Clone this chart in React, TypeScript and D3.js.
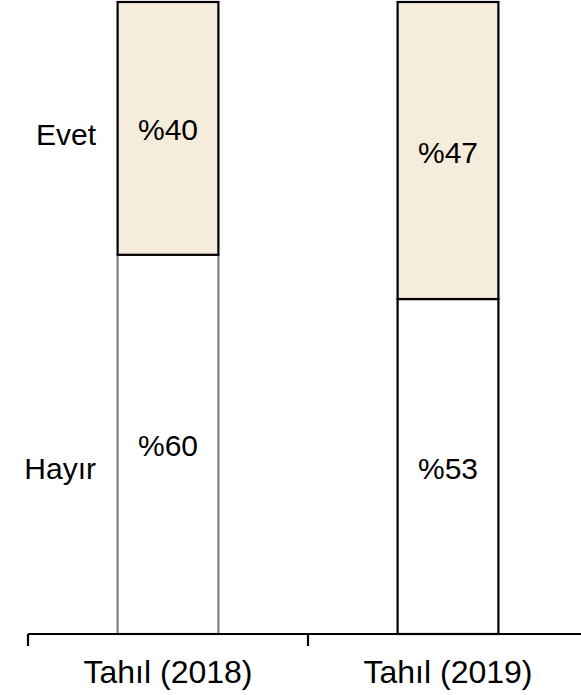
import { useEffect, useRef } from "react";
import * as d3 from "d3";

const categories = ["Tahıl (2018)", "Tahıl (2019)"];
const hayir = [60, 53];
const evet = [40, 47];
const seriesNames = ["Hayır", "Evet"];
// where the left-hand series names sit, in % of bar height
const seriesLabelAt = [26.2, 79];

const width = 581;
const height = 695;
const font = "'Liberation Sans', Arial, sans-serif";

export default function App() {
    const ref = useRef<SVGSVGElement | null>(null);

    useEffect(() => {
        if (!ref.current) return;
        const svg = d3.select(ref.current);
        svg.selectAll("*").remove();

        const x = d3.scaleBand<string>().domain(categories).range([28, 588]).padding(0);
        const y = d3.scaleLinear().domain([0, 100]).range([634, 2]);
        const barW = x.bandwidth() * 0.36;

        const rows = categories.map((c, i) => ({ cat: c, Hayır: hayir[i], Evet: evet[i] }));
        const stack = d3.stack<any>().keys(seriesNames);
        const layers = stack(rows);

        const fills: Record<string, string> = { "Hayır": "#ffffff", "Evet": "#f6ecdc" };
        const strokes: Record<string, string[]> = { "Hayır": ["#7f7f7f", "#000000"], "Evet": ["#000000", "#000000"] };

        layers.forEach((layer) => {
            const key = layer.key;
            layer.forEach((d, i) => {
                const cx = (x(d.data.cat) ?? 0) + x.bandwidth() / 2;
                const y0 = y(d[0]);
                const y1 = y(d[1]);
                svg.append("rect")
                    .attr("x", cx - barW / 2)
                    .attr("y", y1)
                    .attr("width", barW)
                    .attr("height", y0 - y1)
                    .attr("fill", fills[key])
                    .attr("stroke", strokes[key][i])
                    .attr("stroke-width", 2.2);
            });
        });

        // value labels
        layers.forEach((layer) => {
            layer.forEach((d) => {
                const cx = (x(d.data.cat) ?? 0) + x.bandwidth() / 2;
                svg.append("text")
                    .attr("x", cx)
                    .attr("y", (y(d[0]) + y(d[1])) / 2)
                    .attr("dy", "0.4em")
                    .attr("text-anchor", "middle")
                    .attr("font-family", font)
                    .attr("font-size", 30)
                    .attr("fill", "#000")
                    .text(`%${d[1] - d[0]}`);
            });
        });

        // series names on the left
        seriesNames.forEach((name, i) => {
            svg.append("text")
                .attr("x", 96)
                .attr("y", y(seriesLabelAt[i]))
                .attr("dy", "0.35em")
                .attr("text-anchor", "end")
                .attr("font-family", font)
                .attr("font-size", 30)
                .attr("fill", "#000")
                .text(name);
        });

        // category axis
        const axisY = y(0);
        svg.append("line")
            .attr("x1", 28).attr("x2", width)
            .attr("y1", axisY).attr("y2", axisY)
            .attr("stroke", "#000").attr("stroke-width", 2.2);

        const tickXs = [...categories.map((c) => x(c) ?? 0), x.range()[1]];
        svg.selectAll("line.tick")
            .data(tickXs)
            .enter()
            .append("line")
            .attr("class", "tick")
            .attr("x1", (d) => d).attr("x2", (d) => d)
            .attr("y1", axisY).attr("y2", axisY + 12)
            .attr("stroke", "#000").attr("stroke-width", 2.2);

        svg.selectAll("text.cat")
            .data(categories)
            .enter()
            .append("text")
            .attr("class", "cat")
            .attr("x", (d) => (x(d) ?? 0) + x.bandwidth() / 2)
            .attr("y", 683)
            .attr("text-anchor", "middle")
            .attr("font-family", font)
            .attr("font-size", 32)
            .attr("fill", "#000")
            .text((d) => d);
    }, []);

    return (
        <svg
            ref={ref}
            width={width}
            height={height}
            style={{ position: "absolute", left: 0, top: 0, background: "#fff" }}
        ></svg>
    );
}
